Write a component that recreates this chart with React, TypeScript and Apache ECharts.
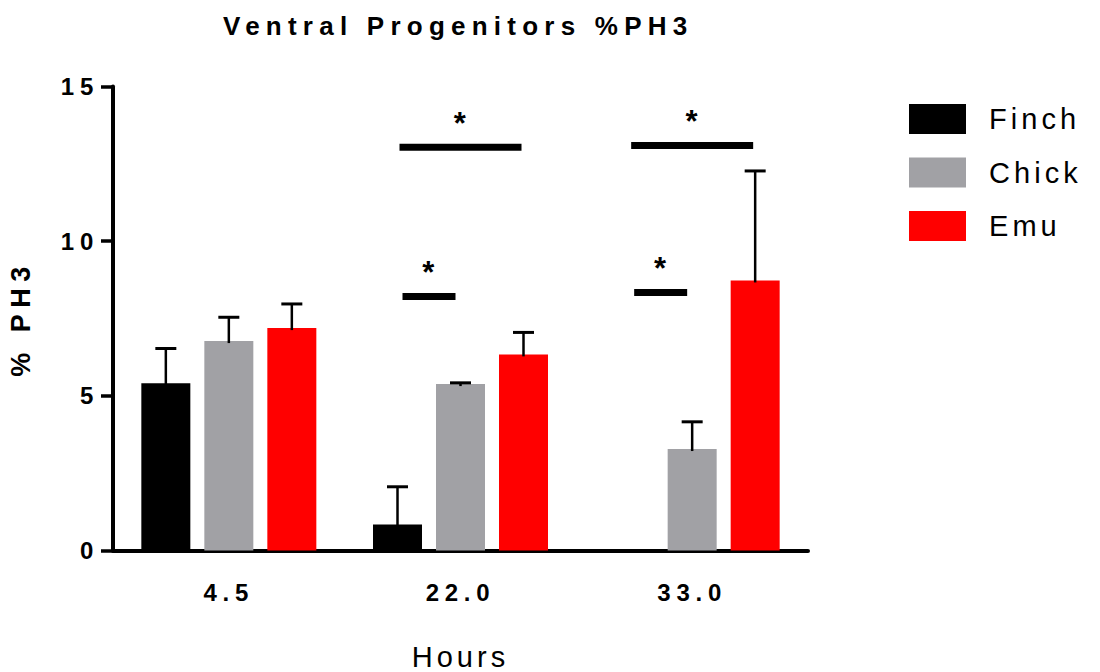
import React, { useEffect, useRef } from "react";
import * as echarts from "echarts";

// ---- data ----
const categories = ["4.5", "22.0", "33.0"];
const seriesNames = ["Finch", "Chick", "Emu"];
const finchValues = [5.41, 0.84, 0];
const chickValues = [6.77, 5.38, 3.28];
const emuValues = [7.19, 6.34, 8.73];
const finchErrors: (number | null)[] = [1.12, 1.22, null];
const chickErrors: (number | null)[] = [0.77, 0.04, 0.88];
const emuErrors: (number | null)[] = [0.78, 0.71, 3.54];
const yMin = 0;
const yMax = 15;
const yInterval = 5;

// significance comparisons
const sigCategory = ["22.0", "22.0", "33.0", "33.0"];
const sigLevel = [13.04, 8.21, 13.09, 8.34];
const sigFrom = ["Finch", "Finch", "Finch", "Finch"];
const sigTo = ["Emu", "Chick", "Emu", "Chick"];
const sigMark = ["*", "*", "*", "*"];

// ---- styles ----
const FONT = "'Liberation Sans', Arial, Helvetica, sans-serif";
const COLORS = ["#000000", "#a1a1a5", "#ff0000"];
const BAR_W = 49;
const BAR_GAP_PX = 14;
const SLOT = BAR_W + BAR_GAP_PX;

export default function App() {
  const ref = useRef<HTMLDivElement>(null);

  useEffect(() => {
    if (!ref.current) return;
    const chart = echarts.init(ref.current, undefined, { renderer: "svg" });

    const valueSets = [finchValues, chickValues, emuValues];
    const errorSets = [finchErrors, chickErrors, emuErrors];

    const errData: number[][] = [];
    valueSets.forEach((vals, s) => {
      vals.forEach((v, c) => {
        const e = errorSets[s][c];
        if (e !== null && e !== undefined) errData.push([c, v, e, s]);
      });
    });

    const sigData = sigCategory.map((cat, i) => [
      categories.indexOf(cat),
      sigLevel[i],
      seriesNames.indexOf(sigFrom[i]),
      seriesNames.indexOf(sigTo[i]),
    ]);

    const barSeries = seriesNames.map((name, s) => ({
      name,
      type: "bar",
      data: valueSets[s],
      barWidth: BAR_W,
      barGap: (BAR_GAP_PX / BAR_W) * 100 + "%",
      itemStyle: { color: COLORS[s] },
      z: 2,
    }));

    const option: any = {
      animation: false,
      backgroundColor: "#ffffff",
      title: {
        text: "Ventral Progenitors %PH3",
        left: 218,
        top: 8,
        textStyle: {
          fontFamily: FONT,
          fontSize: 26,
          fontWeight: "bold",
          color: "#000",
        },
      },
      legend: {
        data: seriesNames,
        orient: "vertical",
        left: 909,
        top: 104,
        padding: 0,
        itemWidth: 57,
        itemHeight: 30,
        itemGap: 23.5,
        icon: "rect",
        textStyle: {
          fontFamily: FONT,
          fontSize: 29,
          color: "#000",
          padding: [6, 0, 0, 18],
        },
      },
      grid: {
        left: 113,
        right: 292,
        top: 86.5,
        bottom: 121.5,
        containLabel: false,
        outerBoundsMode: "none",
      },
      xAxis: {
        type: "category",
        data: categories,
        name: "Hours",
        nameLocation: "middle",
        nameGap: 92,
        nameTextStyle: { fontFamily: FONT, fontSize: 29, color: "#000" },
        axisLine: { lineStyle: { color: "#000", width: 4 } },
        axisTick: { alignWithLabel: true, length: 13, lineStyle: { color: "#000", width: 3.5 } },
        axisLabel: {
          fontFamily: FONT,
          fontSize: 24,
          fontWeight: "bold",
          color: "#000",
          margin: 30,
        },
      },
      yAxis: {
        type: "value",
        min: yMin,
        max: yMax,
        interval: yInterval,
        name: "% PH3",
        nameLocation: "middle",
        nameGap: 79,
        nameTextStyle: { fontFamily: FONT, fontSize: 27, fontWeight: "bold", color: "#000" },
        splitLine: { show: false },
        axisLine: { show: true, lineStyle: { color: "#000", width: 4 } },
        axisTick: { show: true, length: 12, lineStyle: { color: "#000", width: 3.5 } },
        axisLabel: {
          fontFamily: FONT,
          fontSize: 24,
          fontWeight: "bold",
          color: "#000",
          margin: 14,
        },
      },
      series: [
        ...barSeries,
        {
          type: "custom",
          name: "errors",
          data: errData,
          z: 3,
          renderItem: (params: any, api: any) => {
            const c = api.value(0);
            const v = api.value(1);
            const e = api.value(2);
            const s = api.value(3);
            const base = api.coord([c, v]);
            const top = api.coord([c, v + e]);
            const x = base[0] + (s - 1) * SLOT;
            return {
              type: "group",
              children: [
                { type: "line", shape: { x1: x, y1: base[1] + 2, x2: x, y2: top[1] }, style: { stroke: "#000", lineWidth: 2.5 } },
                { type: "line", shape: { x1: x - 10.5, y1: top[1], x2: x + 10.5, y2: top[1] }, style: { stroke: "#000", lineWidth: 3 } },
              ],
            };
          },
        },
        {
          type: "custom",
          name: "significance",
          data: sigData,
          z: 3,
          renderItem: (params: any, api: any) => {
            const c = api.value(0);
            const lvl = api.value(1);
            const f = api.value(2);
            const t = api.value(3);
            const p = api.coord([c, lvl]);
            const inset = t - f > 1 ? 2 : 5;
            const x1 = p[0] + (f - 1) * SLOT + inset;
            const x2 = p[0] + (t - 1) * SLOT - inset;
            return {
              type: "group",
              children: [
                {
                  type: "rect",
                  shape: { x: x1, y: p[1] - 3.5, width: x2 - x1, height: 7 },
                  style: { fill: "#000" },
                },
                {
                  type: "text",
                  x: (x1 + x2) / 2 + 3,
                  y: p[1] - 24,
                  style: {
                    text: sigMark[params.dataIndex],
                    fontFamily: FONT,
                    fontSize: 31,
                    fontWeight: "bold",
                    fill: "#000",
                    align: "center",
                    verticalAlign: "middle",
                  },
                },
              ],
            };
          },
        },
      ],
    };

    chart.setOption(option);
    return () => chart.dispose();
  }, []);

  return (
    <>
      <style>{`
        .ech text { letter-spacing: 0.14em; }
        .ech text[style*="bold"] { letter-spacing: 0.24em; }
      `}</style>
      <div
        ref={ref}
        className="ech"
        style={{ position: "fixed", left: 0, top: 0, width: 1100, height: 672 }}
      />
    </>
  );
}
